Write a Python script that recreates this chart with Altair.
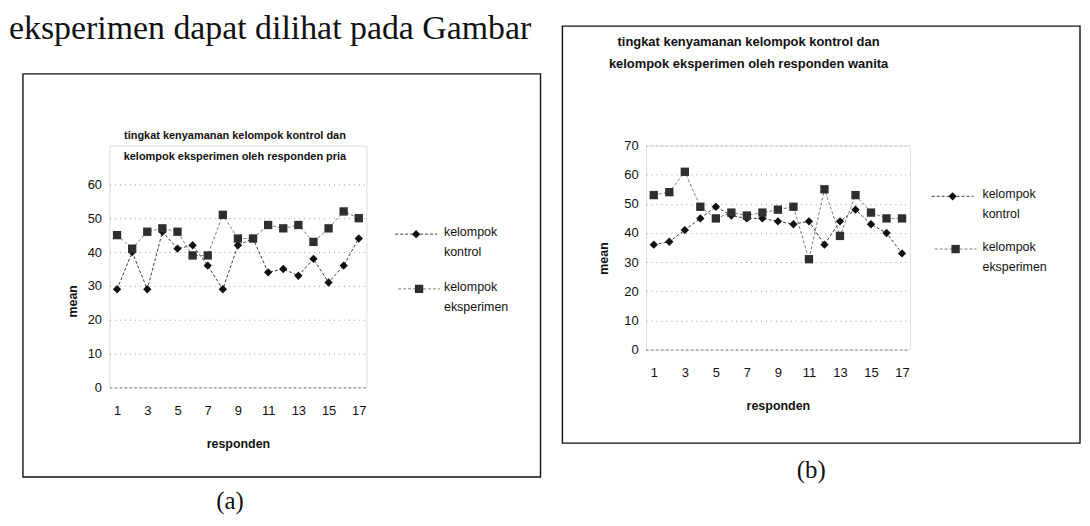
import altair as alt
import pandas as pd

# ---------------- data ----------------
responden = list(range(1, 18))
x_ticks = [1, 3, 5, 7, 9, 11, 13, 15, 17]
series = ["kelompok kontrol", "kelompok eksperimen"]

kontrol_pria = [29, 40, 29, 46, 41, 42, 36, 29, 42, 44, 34, 35, 33, 38, 31, 36, 44]
eksperimen_pria = [45, 41, 46, 47, 46, 39, 39, 51, 44, 44, 48, 47, 48, 43, 47, 52, 50]

kontrol_wanita = [36, 37, 41, 45, 49, 46, 45, 45, 44, 43, 44, 36, 44, 48, 43, 40, 33]
eksperimen_wanita = [53, 54, 61, 49, 45, 47, 46, 47, 48, 49, 31, 55, 39, 53, 47, 45, 45]

title_pria = ["tingkat kenyamanan kelompok kontrol dan",
              "kelompok eksperimen oleh responden pria"]
title_wanita = ["tingkat kenyamanan kelompok kontrol dan",
                "kelompok eksperimen oleh responden wanita"]
lead_text = "eksperimen dapat dilihat pada Gambar"
caption_a = "(a)"
caption_b = "(b)"

SANS = "Liberation Sans"
SERIF = "Liberation Serif"

LINE_COLORS = ["#3a3a3a", "#7a7a7a"]
MARK_COLORS = ["#111111", "#2e2e2e"]
SHAPES = ["diamond", "square"]


def long_table(k, e):
    rows = []
    for r, v in zip(responden, k):
        rows.append({"responden": r, "mean": v, "kelompok": series[0]})
    for r, v in zip(responden, e):
        rows.append({"responden": r, "mean": v, "kelompok": series[1]})
    return pd.DataFrame(rows)


one = alt.Data(values=[{}])


def color_enc():
    return alt.Color("kelompok:N", scale=alt.Scale(domain=series, range=MARK_COLORS),
                     legend=None)


def shape_enc():
    return alt.Shape("kelompok:N", scale=alt.Scale(domain=series, range=SHAPES),
                     legend=None)


def legend_layers(pos):
    # pos: list of (symbol_x, symbol_y, text_x) for each series
    out = []
    for i, (sx, sy, tx) in enumerate(pos):
        d = alt.Data(values=[{"kelompok": series[i]}])
        out.append(alt.Chart(d).mark_rule(strokeWidth=1, strokeDash=[3, 2],
                                          color=LINE_COLORS[i]).encode(
            x=alt.value(sx - 21), x2=alt.value(sx + 21), y=alt.value(sy)))
        out.append(alt.Chart(d).mark_point(filled=True, opacity=1).encode(
            x=alt.value(sx), y=alt.value(sy), color=color_enc(), shape=shape_enc(),
            size=alt.value(70)))
        out.append(alt.Chart(d).mark_text(text=series[i].split(" "), font=SANS,
                                          fontSize=12.5, color="#111", align="left",
                                          baseline="alphabetic", lineHeight=20).encode(
            x=alt.value(tx), y=alt.value(sy + 2)))
    return out


def panel(df, ymax, dmax, W, H, frame, title_lines, title_pos, title_size,
          caption, cap_pos, ytitle_pad, ytitle_y, leg_pos, extra_layers):
    x = alt.X("responden:Q",
              scale=alt.Scale(domain=[0.5, 17.5], nice=False, zero=False),
              axis=alt.Axis(values=x_ticks, title="responden", grid=False,
                            ticks=False, labelPadding=17, titlePadding=20,
                            domainColor="#888", domainDash=[2, 3],
                            labelFontSize=13, titleFontSize=12.5,
                            titleFontWeight="bold", labelFont=SANS,
                            titleFont=SANS, labelColor="#111",
                            titleColor="#111", labelFlush=False))
    y = alt.Y("mean:Q",
              scale=alt.Scale(domain=[0, dmax], nice=False),
              axis=alt.Axis(values=list(range(0, ymax + 1, 10)), title="mean",
                            grid=True, gridColor="#9a9a9a", gridDash=[1, 4],
                            domain=False, ticks=False, labelPadding=8,
                            titlePadding=ytitle_pad, titleY=ytitle_y,
                            labelFontSize=13,
                            titleFontSize=12.5, titleFontWeight="bold",
                            labelFont=SANS, titleFont=SANS,
                            labelColor="#111", titleColor="#111"))

    lines = alt.Chart(df).mark_line(strokeWidth=1, strokeDash=[3, 2]).encode(
        x=x, y=y,
        stroke=alt.Stroke("kelompok:N",
                          scale=alt.Scale(domain=series, range=LINE_COLORS),
                          legend=None),
        detail="kelompok:N",
    )
    pts = alt.Chart(df).mark_point(filled=True, opacity=1).encode(
        x=x, y=y, color=color_enc(), shape=shape_enc(), size=alt.value(70),
    )

    fx1, fx2, fy1, fy2 = frame
    box = alt.Chart(one).mark_rect(filled=False, color="#111", strokeWidth=1.4).encode(
        x=alt.value(fx1), x2=alt.value(fx2), y=alt.value(fy1), y2=alt.value(fy2))

    ttl = alt.Chart(one).mark_text(text=title_lines, font=SANS, fontSize=title_size,
                                   fontWeight="bold", color="#111", align="center",
                                   baseline="alphabetic", lineHeight=22).encode(
        x=alt.value(title_pos[0]), y=alt.value(title_pos[1]))

    cap = alt.Chart(one).mark_text(text=caption, font=SERIF, fontSize=25,
                                   color="#111", align="center",
                                   baseline="alphabetic").encode(
        x=alt.value(cap_pos[0]), y=alt.value(cap_pos[1]))

    return alt.layer(box, ttl, lines, pts, cap, *legend_layers(leg_pos),
                     *extra_layers).properties(width=W, height=H)


df_a = long_table(kontrol_pria, eksperimen_pria)
df_b = long_table(kontrol_wanita, eksperimen_wanita)

lead = alt.Chart(one).mark_text(text=lead_text, font=SERIF, fontSize=34,
                                color="#111", align="left",
                                baseline="alphabetic").encode(
    x=alt.value(-101), y=alt.value(-107))

spacer = alt.Chart(one).mark_rect(color="white").encode(
    x=alt.value(0), x2=alt.value(1), y=alt.value(-136), y2=alt.value(-135))

# panel A: plot origin shared with panel B; scale headroom places 60 lower
panel_a = panel(df_a, 60, 60 * 243 / 204, 258, 243, (-87, 433, -72, 333), title_pria,
                (126, -7), 11, caption_a, (121, 365), 8, 156,
                [(308, 89, 336), (311, 144, 336)], [lead])
panel_b = panel(df_b, 70, 70, 265, 205, (-84, 436, -120, 299), title_wanita,
                (103, -100), 13, caption_b, (166, 334), 13, 113,
                [(308, 51, 338), (311, 104, 338)], [spacer])

chart = alt.hconcat(panel_a, panel_b, spacing=18).properties(
    padding=0
).resolve_scale(color="independent", shape="independent", stroke="independent"
).configure_view(strokeWidth=0).configure(background="white")

chart.save("out.html", embed_options={"renderer": "svg", "actions": False})
